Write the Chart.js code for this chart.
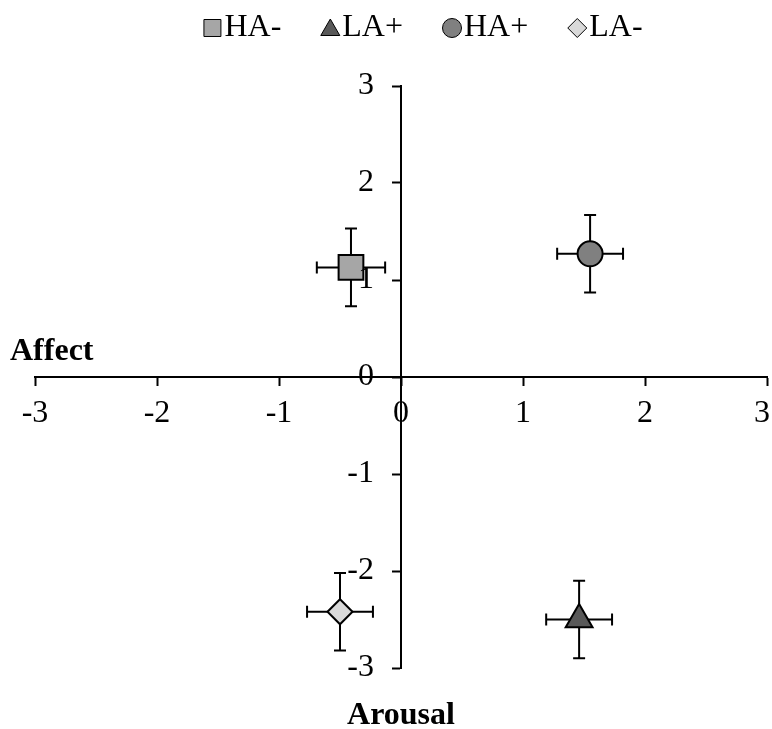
<!DOCTYPE html>
<html lang="en">
  <head>
    <meta charset="UTF-8" />
    <title>Affect and Arousal</title>
    <script src="https://cdn.jsdelivr.net/npm/chart.js"></script>
    <style>
      html, body { margin: 0; padding: 0; overflow: hidden; background: #ffffff; }
      #moodChart { display: block; width: 772px; height: 729px; }
    </style>
  </head>
  <body>
    <canvas id="moodChart" width="772" height="729"></canvas>

    <script>
      // group means (legend order), x = affect, y = arousal
      const groups = ["HA-", "LA+", "HA+", "LA-"];
      const affect = [-0.41, 1.46, 1.55, -0.5];
      const arousal = [1.13, -2.5, 1.27, -2.42];
      // error bar half lengths
      const affectErr = [0.28, 0.27, 0.27, 0.27];
      const arousalErr = [0.4, 0.4, 0.4, 0.4];
      const axisTicks = [-3, -2, -1, 0, 1, 2, 3];

      const shapes = ["rect", "triangle", "circle", "rectRot"];
      const fills = ["#a6a6a6", "#595959", "#808080", "#d9d9d9"];
      const sizes = [17.5, 15.5, 12.5, 12.5];
      const legendSizes = [12, 11, 9.5, 9.5];

      const FONT = '"Liberation Serif", "Times New Roman", serif';
      const TICK_SIZE = 32;

      // whiskers with end caps, drawn under the markers
      const errorBars = {
        id: "errorBars",
        beforeDatasetsDraw(chart) {
          const { ctx } = chart;
          const xs = chart.scales.x;
          const ys = chart.scales.y;
          const cap = 6;
          ctx.save();
          ctx.strokeStyle = "#000";
          ctx.lineWidth = 2;
          groups.forEach((g, i) => {
            const px = xs.getPixelForValue(affect[i]);
            const py = ys.getPixelForValue(arousal[i]);
            const x1 = xs.getPixelForValue(affect[i] - affectErr[i]);
            const x2 = xs.getPixelForValue(affect[i] + affectErr[i]);
            const y1 = ys.getPixelForValue(arousal[i] + arousalErr[i]);
            const y2 = ys.getPixelForValue(arousal[i] - arousalErr[i]);
            ctx.beginPath();
            ctx.moveTo(x1, py); ctx.lineTo(x2, py);
            ctx.moveTo(x1, py - cap); ctx.lineTo(x1, py + cap);
            ctx.moveTo(x2, py - cap); ctx.lineTo(x2, py + cap);
            ctx.moveTo(px, y1); ctx.lineTo(px, y2);
            ctx.moveTo(px - cap, y1); ctx.lineTo(px + cap, y1);
            ctx.moveTo(px - cap, y2); ctx.lineTo(px + cap, y2);
            ctx.stroke();
          });
          ctx.restore();
        },
      };

      // tick labels (chart.js stacks them on a centred axis), axis names
      // and the legend row
      const extras = {
        id: "extras",
        afterDraw(chart) {
          const { ctx, chartArea } = chart;
          const xs = chart.scales.x;
          const ys = chart.scales.y;
          const axisX = xs.getPixelForValue(0);
          const axisY = ys.getPixelForValue(0);
          ctx.save();
          ctx.fillStyle = "#000";
          ctx.textBaseline = "middle";

          ctx.font = TICK_SIZE + "px " + FONT;
          ctx.textAlign = "right";
          ys.ticks.forEach((t) => {
            ctx.fillText(String(t.value), axisX - 27, ys.getPixelForValue(t.value));
          });
          ctx.textAlign = "center";
          xs.ticks.forEach((t) => {
            const label = String(t.value);
            const half = ctx.measureText(label).width / 2;
            // keep the last label inside the canvas
            const lx = Math.min(xs.getPixelForValue(t.value), chart.width - 2 - half);
            ctx.fillText(label, lx, axisY + 37);
          });

          ctx.font = "bold " + TICK_SIZE + "px " + FONT;
          ctx.textAlign = "left";
          ctx.fillText("Affect", 10, axisY - 25);
          ctx.textAlign = "center";
          ctx.fillText("Arousal", axisX, chartArea.bottom + 48);

          // legend
          ctx.font = "32px " + FONT;
          ctx.textAlign = "left";
          const mark = 18, gap = 3, space = 40, cy = 28;
          const widths = groups.map((g) => mark + gap + ctx.measureText(g).width);
          const total = widths.reduce((a, b) => a + b, 0) + space * (groups.length - 1);
          let x = 423 - total / 2;
          chart.data.datasets.forEach((ds, i) => {
            ctx.fillStyle = ds.backgroundColor;
            ctx.strokeStyle = "#000";
            Chart.helpers.drawPoint(ctx, {
              pointStyle: ds.pointStyle,
              radius: legendSizes[i],
              borderWidth: 2,
              rotation: 0,
            }, x + mark / 2, ds.pointStyle === "triangle" ? cy + 2 : cy);
            ctx.fillStyle = "#000";
            ctx.fillText(ds.label, x + mark + gap, cy);
            x += widths[i] + space;
          });
          ctx.restore();
        },
      };

      const axisGrid = { drawOnChartArea: false, tickLength: 8, tickWidth: 2, tickColor: "#000" };

      const ctx = document.getElementById("moodChart").getContext("2d");
      const chart = new Chart(ctx, {
        type: "scatter",
        data: {
          datasets: groups.map((g, i) => ({
            label: g,
            data: [{ x: affect[i], y: arousal[i] }],
            pointStyle: shapes[i],
            backgroundColor: fills[i],
            borderColor: "#000",
            borderWidth: 2,
            pointRadius: sizes[i],
          })),
        },
        options: {
          responsive: false,
          animation: false,
          devicePixelRatio: 1,
          layout: {
            autoPadding: false,
            padding: { left: 35, right: 5, top: 86, bottom: 61 },
          },
          plugins: {
            legend: { display: false },
            tooltip: { enabled: false },
          },
          scales: {
            x: {
              type: "linear",
              min: -3,
              max: 3,
              position: { y: 0 },
              afterBuildTicks: (s) => { s.ticks = axisTicks.map((v) => ({ value: v })); },
              grid: axisGrid,
              border: { color: "#000", width: 2 },
              ticks: { display: false },
            },
            y: {
              type: "linear",
              min: -3,
              max: 3,
              position: { x: 0 },
              afterBuildTicks: (s) => { s.ticks = axisTicks.map((v) => ({ value: v })); },
              grid: axisGrid,
              border: { color: "#000", width: 2 },
              ticks: { display: false },
            },
          },
        },
        plugins: [errorBars, extras],
      });
    </script>
  </body>
</html>
